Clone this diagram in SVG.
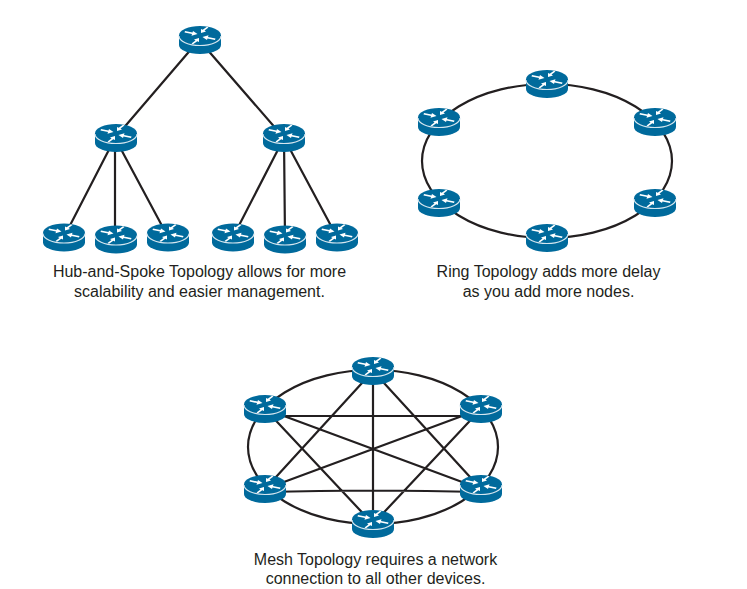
<svg xmlns="http://www.w3.org/2000/svg" width="747" height="589" viewBox="0 0 747 589">
<style>
.c{fill:none;stroke:#231f20;stroke-width:2.2}
.t{font-family:"Liberation Sans",Arial,sans-serif;font-size:16px;fill:#231f20;text-anchor:middle}
.b{fill:#006a9c}.a{fill:#fff}.e{fill:none;stroke:#d5e6ef;stroke-width:1.2}
</style>
<defs>
<g id="router">
<path class="b" d="M-21-4.500V5A21 9 0 0 0 21 5V-4.500Z"/>
<ellipse class="b" cx="0" cy="-4.500" rx="21" ry="9.500"/>
<path class="e" d="M-21-4A21 9.500 0 0 0 21-4"/>
<g transform="translate(0 -4.500)">
<path class="a" d="M-15-4.500-7.500-3-7-4.500-2.500-1.500-8.500.2-8-1.400-15.500-3ZM15 4.500 7.500 3 7 4.500 2.500 1.500 8.500-.2 8 1.400 15.500 3ZM8.500-8 4.500-5 6-4 1-2.500 1-6.500 2.700-5.800 7-8.800ZM-8.500 8-4.500 5-6 4-1 2.500-1 6.500-2.700 5.800-7 8.800Z"/>
</g>
</g>
</defs>
<g id="connectors">
<path class="c" d="M199 40 115 138M199 40 284 138M115 138 64 237M115 138V239M115 138 168 237M284 138 233 237M284 138 285 239M284 138 337 237"/>
<ellipse class="c" cx="547" cy="161" rx="125" ry="77"/>
<ellipse class="c" cx="373" cy="447" rx="125" ry="77"/>
<path class="c" d="M373 371V524M265 416H481M265 492Q373 489 481 492M265 409 481 489M481 409 265 489M265 409 373 524M481 409 373 524M373 371 265 489M373 371 481 489"/>
</g>
<g id="hub-top"><use href="#router" x="200" y="40"/></g>
<g id="hub-left"><use href="#router" x="116" y="138"/></g>
<g id="hub-right"><use href="#router" x="284" y="138"/></g>
<g id="leaf-1"><use href="#router" x="64" y="237.500"/></g>
<g id="leaf-2"><use href="#router" x="116" y="239.500"/></g>
<g id="leaf-3"><use href="#router" x="168" y="237.500"/></g>
<g id="leaf-4"><use href="#router" x="233" y="237.500"/></g>
<g id="leaf-5"><use href="#router" x="285" y="239.500"/></g>
<g id="leaf-6"><use href="#router" x="337" y="237.500"/></g>
<g id="ring-top"><use href="#router" x="547" y="84"/></g>
<g id="ring-ul"><use href="#router" x="439" y="122"/></g>
<g id="ring-ur"><use href="#router" x="655" y="122"/></g>
<g id="ring-ll"><use href="#router" x="439" y="203"/></g>
<g id="ring-lr"><use href="#router" x="655" y="203"/></g>
<g id="ring-bottom"><use href="#router" x="547" y="238"/></g>
<g id="mesh-top"><use href="#router" x="373" y="371"/></g>
<g id="mesh-ul"><use href="#router" x="265" y="409"/></g>
<g id="mesh-ur"><use href="#router" x="481" y="409"/></g>
<g id="mesh-ll"><use href="#router" x="265" y="489"/></g>
<g id="mesh-lr"><use href="#router" x="481" y="489"/></g>
<g id="mesh-bottom"><use href="#router" x="373" y="524"/></g>
<g id="labels">
<text class="t" x="199.500" y="277">Hub-and-Spoke Topology allows for more</text>
<text class="t" x="199.500" y="297">scalability and easier management.</text>
<text class="t" x="548.500" y="277">Ring Topology adds more delay</text>
<text class="t" x="548.500" y="297">as you add more nodes.</text>
<text class="t" x="375.500" y="565">Mesh Topology requires a network</text>
<text class="t" x="375.500" y="584">connection to all other devices.</text>
</g>
</svg>
